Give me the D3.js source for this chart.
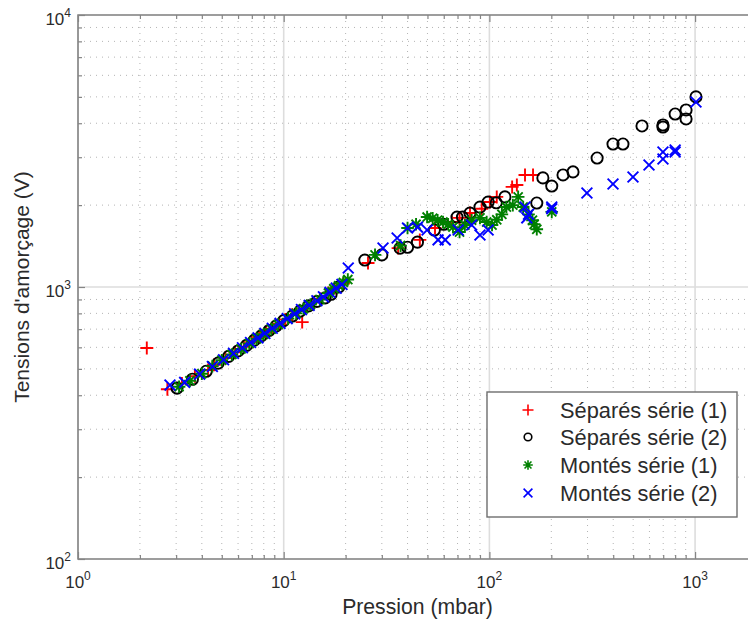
<!DOCTYPE html>
<html><head><meta charset="utf-8">
<script src="https://cdn.jsdelivr.net/npm/d3@7"></script>
<style>body{margin:0;background:#fff}svg{display:block}</style>
</head><body>
<svg id="c" width="748" height="620"></svg>
<script>
// ---- data (pressure mbar, voltage V) ----
const separes1 = [[2.16,597],[2.72,421],[3.2,442],[3.7,470],[4.29,495],[4.6,518],[5.2,548],[5.8,575],[6.4,603],[7.0,628],[7.6,655],[8.2,680],[8.8,703],[9.5,733],[10.2,760],[11,790],[11.8,815],[12.3,743],[13,848],[14,878],[15,905],[16.5,950],[18,992],[19.5,1030],[25.7,1225],[36,1390],[45.9,1490],[54.4,1648],[65.7,1733],[71.6,1796],[80.5,1870],[91.8,1940],[100.6,2053],[108.6,2144],[129,2334],[136,2372],[149,2582],[163,2582]];
const separes2 = [[3.03,425],[3.6,458],[4.2,490],[4.8,525],[5.4,556],[6.0,582],[6.6,610],[7.2,638],[7.8,662],[8.5,692],[9.2,720],[10,752],[11,782],[12,815],[13.2,852],[14.5,885],[15.9,912],[17,940],[18.5,1000],[24.8,1256],[30,1312],[36.8,1390],[40,1400],[44.7,1462],[54,1620],[60,1700],[69.6,1808],[74,1808],[80.5,1870],[90,1966],[98.6,2053],[108,2040],[119,2144],[170,2036],[182,2518],[201,2350],[228,2582],[255,2649],[334,2980],[399,3355],[446,3355],[552,3908],[698,3873],[698,3941],[800,4325],[904,4477],[904,4147],[1010,4999]];
const montes1 = [[3.1,430],[3.5,452],[4.0,480],[4.5,512],[5.0,538],[5.6,565],[6.2,592],[6.8,620],[7.4,645],[8.0,670],[8.7,700],[9.4,728],[10.5,765],[11.5,800],[12.5,832],[13.5,862],[15,900],[16.5,950],[17.5,985],[18.5,1012],[19.5,1040],[20.5,1065],[27.8,1312],[37,1420],[40,1648],[44,1700],[49.8,1808],[53,1790],[56,1760],[59.5,1733],[63,1700],[66.5,1660],[71.6,1592],[76,1690],[82,1760],[90,1796],[97,1733],[103,1690],[108.6,1766],[115,1850],[121,1968],[130,2000],[138,2144],[146,1968],[155,1850],[162,1760],[165,1700],[170,1630],[201,1889]];
const montes2 = [[2.8,436],[3.3,446],[3.9,478],[4.5,510],[5.1,540],[5.7,570],[6.3,598],[6.9,625],[7.5,650],[8.1,675],[8.8,705],[9.6,735],[10.4,765],[11.3,797],[12.2,826],[13.3,856],[14.5,890],[15.6,920],[16.8,955],[18,990],[19.2,1022],[20.6,1175],[30.4,1390],[35.6,1514],[40,1648],[44.7,1660],[49.8,1620],[56.3,1490],[61,1490],[70.5,1620],[82,1690],[90,1553],[98.6,1620],[149,1968],[152,1796],[155,1850],[201,1940],[201,1968],[298,2216],[399,2392],[499,2537],[597,2809],[698,2956],[698,3136],[800,3189],[800,3136],[1010,4786]];

const seriesNames = ["Séparés série (1)","Séparés série (2)","Montés série (1)","Montés série (2)"];
const seriesColors = ["#ff0000","#000000","#008000","#0000ff"];
const seriesMarkers = ["plus","circle","star","cross"];

const xDomain = [1, 2000];
const yDomain = [100, 10000];
const xMajorTicks = [1, 10, 100, 1000];
const yMajorTicks = [100, 1000, 10000];
const xTickExp = ["0","1","2","3"];
const yTickExp = ["2","3","4"];
const minorMultipliers = [2,3,4,5,6,7,8,9];
const xLabel = "Pression (mbar)";
const yLabel = "Tensions d'amorçage (V)";

// ---- layout ----
const L = 78, T = 15, R = 757, B = 559;
const svg = d3.select("#c");
const x = d3.scaleLog().domain(xDomain).range([L, R]);
const y = d3.scaleLog().domain(yDomain).range([B, T]);

const xMinor = [];
xMajorTicks.forEach(d => minorMultipliers.forEach(m => { if (d*m <= xDomain[1]) xMinor.push(d*m); }));
const yMinor = [];
yMajorTicks.slice(0,-1).forEach(d => minorMultipliers.forEach(m => yMinor.push(d*m)));

const font = "'Liberation Sans', Arial, Helvetica, sans-serif";
const textColor = "#2b2b2b";
const axisColor = "#858585";

svg.append("rect").attr("x",0).attr("y",0).attr("width",748).attr("height",620).attr("fill","#fff");

const defs = svg.append("defs");
defs.append("clipPath").attr("id","plotclip").append("rect")
  .attr("x",L).attr("y",T).attr("width",R-L).attr("height",B-T);

// grids
const grid = svg.append("g");
grid.selectAll(".xminor").data(xMinor).join("line")
  .attr("x1",d=>x(d)).attr("x2",d=>x(d)).attr("y1",T).attr("y2",B)
  .attr("stroke","#b4b4b4").attr("stroke-width",1).attr("stroke-dasharray","1,5");
grid.selectAll(".yminor").data(yMinor).join("line")
  .attr("y1",d=>y(d)).attr("y2",d=>y(d)).attr("x1",L).attr("x2",R)
  .attr("stroke","#b4b4b4").attr("stroke-width",1).attr("stroke-dasharray","1,5");
grid.selectAll(".xmajor").data(xMajorTicks).join("line")
  .attr("x1",d=>x(d)).attr("x2",d=>x(d)).attr("y1",T).attr("y2",B)
  .attr("stroke","#dddddd").attr("stroke-width",1.6);
grid.selectAll(".ymajor").data(yMajorTicks).join("line")
  .attr("y1",d=>y(d)).attr("y2",d=>y(d)).attr("x1",L).attr("x2",R)
  .attr("stroke","#dddddd").attr("stroke-width",1.6);

// markers
function markerPath(type, s) {
  if (type === "plus") return `M${-s},0H${s}M0,${-s}V${s}`;
  if (type === "cross") return `M${-s},${-s}L${s},${s}M${-s},${s}L${s},${-s}`;
  if (type === "star") { const k = s*0.72; return `M${-s},0H${s}M0,${-s}V${s}M${-k},${-k}L${k},${k}M${-k},${k}L${k},${-k}`; }
  return "";
}
function drawMarker(g, type, color, size, sw) {
  if (type === "circle") {
    g.append("circle").attr("r", size).attr("fill","none").attr("stroke",color).attr("stroke-width",sw);
  } else {
    g.append("path").attr("d", markerPath(type,size)).attr("fill","none").attr("stroke",color).attr("stroke-width",sw);
  }
}
const plotSizes = {plus:6.5, circle:5.6, star:6.3, cross:5.4};
const allSeries = [separes1, separes2, montes1, montes2];
const plot = svg.append("g").attr("clip-path","url(#plotclip)");
allSeries.forEach((data, i) => {
  const g = plot.append("g");
  g.selectAll("g").data(data).join("g")
    .attr("transform", d => `translate(${x(d[0])},${y(d[1])})`)
    .each(function(){ drawMarker(d3.select(this), seriesMarkers[i], seriesColors[i], plotSizes[seriesMarkers[i]], 1.9); });
});

// ticks via axes (inside)
function styleAxis(g){ g.select(".domain").remove(); g.selectAll("line").attr("stroke",axisColor).attr("stroke-width",1.2); g.selectAll("text").remove(); }
svg.append("g").attr("transform",`translate(0,${B})`).call(d3.axisBottom(x).tickValues(xMinor).tickSize(-4).tickFormat("")).call(styleAxis);
svg.append("g").attr("transform",`translate(0,${B})`).call(d3.axisBottom(x).tickValues(xMajorTicks).tickSize(-7).tickFormat("")).call(styleAxis);
svg.append("g").attr("transform",`translate(0,${T})`).call(d3.axisTop(x).tickValues(xMinor).tickSize(-4).tickFormat("")).call(styleAxis);
svg.append("g").attr("transform",`translate(0,${T})`).call(d3.axisTop(x).tickValues(xMajorTicks).tickSize(-7).tickFormat("")).call(styleAxis);
svg.append("g").attr("transform",`translate(${L},0)`).call(d3.axisLeft(y).tickValues(yMinor).tickSize(-4).tickFormat("")).call(styleAxis);
svg.append("g").attr("transform",`translate(${L},0)`).call(d3.axisLeft(y).tickValues(yMajorTicks).tickSize(-7).tickFormat("")).call(styleAxis);

// frame
svg.append("path").attr("d",`M${R},${T}H${L}V${B}H${R}`).attr("fill","none")
  .attr("stroke",axisColor).attr("stroke-width",1.6);

// tick labels
const xl = svg.append("g").attr("font-family",font).attr("fill",textColor);
xMajorTicks.forEach((v,i)=>{
  const t = xl.append("text").attr("x",x(v)).attr("y",588).attr("text-anchor","middle").attr("font-size",17);
  t.append("tspan").text("10");
  t.append("tspan").attr("font-size",12).attr("dy",-8).text(xTickExp[i]);
});
yMajorTicks.forEach((v,i)=>{
  const t = xl.append("text").attr("x",71).attr("y",y(v)+10).attr("text-anchor","end").attr("font-size",17);
  t.append("tspan").text("10");
  t.append("tspan").attr("font-size",12).attr("dy",-8).text(yTickExp[i]);
});

// axis titles
svg.append("text").attr("x",(L+R)/2).attr("y",614).attr("text-anchor","middle")
  .attr("font-family",font).attr("font-size",21.2).attr("fill",textColor).text(xLabel);
svg.append("text").attr("transform",`translate(29,${(T+B)/2}) rotate(-90)`).attr("text-anchor","middle")
  .attr("font-family",font).attr("font-size",21).attr("fill",textColor).text(yLabel);

// legend
const lg = svg.append("g");
lg.append("rect").attr("x",487).attr("y",392).attr("width",250).attr("height",125)
  .attr("fill","#fff").attr("stroke","#6e6e6e").attr("stroke-width",1.4);
const legendSizes = {plus:5.5, circle:3.8, star:4.8, cross:4.4};
const rowsY = [410,437,465,493];
seriesNames.forEach((n,i)=>{
  const g = lg.append("g").attr("transform",`translate(528,${rowsY[i]})`);
  drawMarker(g, seriesMarkers[i], seriesColors[i], legendSizes[seriesMarkers[i]], 1.6);
  lg.append("text").attr("x",560).attr("y",rowsY[i]+7.5).attr("font-family",font)
    .attr("font-size",21.8).attr("fill",textColor).text(n);
});
</script>
</body></html>
